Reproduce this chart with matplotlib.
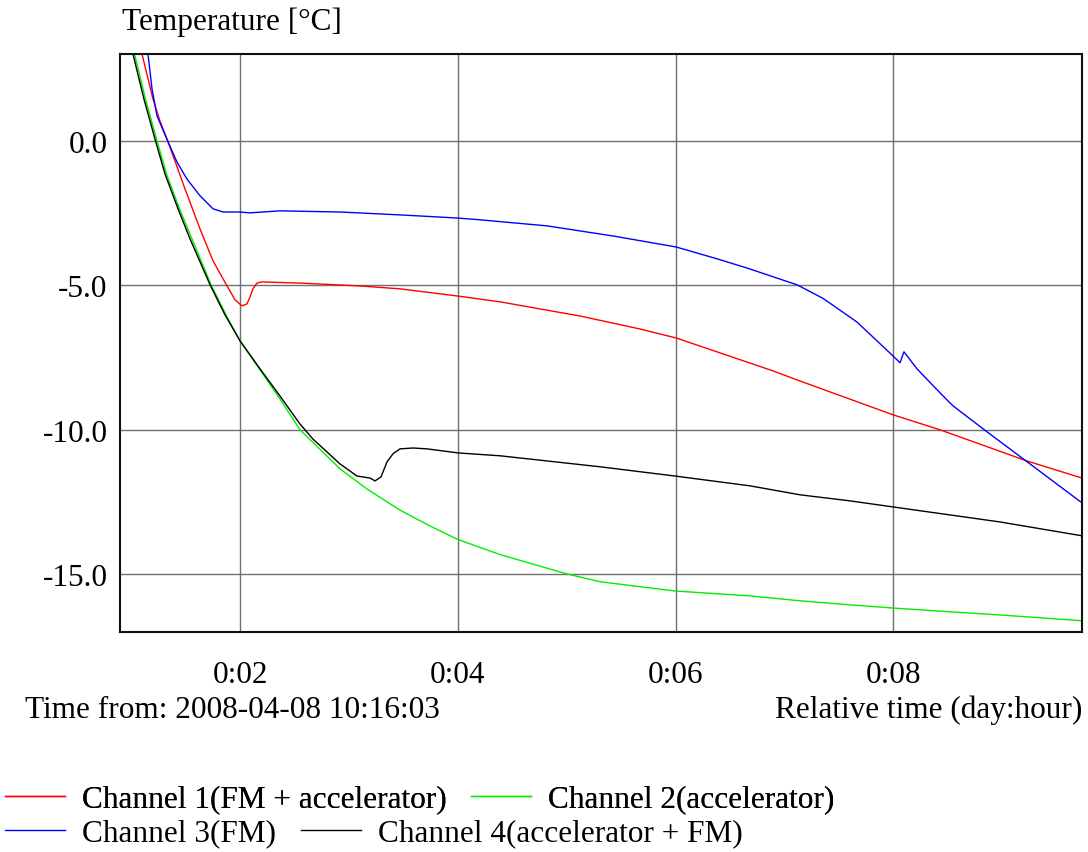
import matplotlib
matplotlib.use("Agg")
import matplotlib.pyplot as plt
from matplotlib.ticker import FixedLocator, FuncFormatter

plt.rcParams['font.family'] = ['Liberation Serif', 'DejaVu Serif']

# Relative time in hours, temperature in degrees Celsius
ch1_time = [1.073, 1.100, 1.201, 1.265, 1.339, 1.495, 1.633, 1.752, 1.881, 1.954,
            2.018, 2.064, 2.092, 2.119, 2.156, 2.202, 2.551, 3.102, 3.469, 4.002,
            4.388, 5.122, 5.673, 6.004, 6.894, 7.142, 7.996, 8.428, 9.227, 9.732]
ch1_temp = [3.53, 3.01, 1.45, 0.69, -0.03, -1.66, -3.05, -4.15, -5.02, -5.50,
            -5.71, -5.64, -5.40, -5.12, -4.92, -4.88, -4.92, -5.02, -5.12, -5.37,
            -5.57, -6.06, -6.51, -6.82, -7.96, -8.31, -9.48, -10.00, -11.08, -11.67]

ch2_time = [0.999, 1.031, 1.132, 1.233, 1.325, 1.444, 1.559, 1.734, 1.871, 2.000,
            2.184, 2.367, 2.551, 2.918, 3.166, 3.469, 3.745, 4.002, 4.388, 5.003,
            5.306, 5.994, 6.683, 7.142, 7.601, 7.996, 8.520, 8.979, 9.732]
ch2_temp = [3.53, 3.01, 1.45, 0.07, -1.14, -2.35, -3.39, -4.98, -6.02, -6.92,
            -7.93, -8.93, -10.00, -11.35, -12.05, -12.78, -13.33, -13.80, -14.32, -14.99,
            -15.26, -15.58, -15.75, -15.92, -16.06, -16.17, -16.30, -16.41, -16.61]

ch3_time = [1.146, 1.155, 1.192, 1.238, 1.339, 1.421, 1.513, 1.633, 1.752, 1.844,
            2.000, 2.092, 2.367, 2.918, 3.469, 4.002, 4.204, 4.819, 5.425, 6.004,
            6.380, 6.656, 7.115, 7.354, 7.666, 7.996, 8.061, 8.097, 8.217, 8.428,
            8.547, 8.860, 9.254, 9.732]
ch3_temp = [3.53, 3.01, 1.80, 0.87, -0.03, -0.73, -1.32, -1.90, -2.35, -2.46,
            -2.46, -2.49, -2.42, -2.46, -2.56, -2.67, -2.73, -2.94, -3.29, -3.67,
            -4.08, -4.40, -4.98, -5.45, -6.27, -7.44, -7.68, -7.30, -7.89, -8.72,
            -9.17, -10.07, -11.18, -12.53]

ch4_time = [0.985, 1.017, 1.118, 1.219, 1.311, 1.431, 1.541, 1.725, 1.862, 2.000,
            2.184, 2.367, 2.551, 2.670, 2.918, 3.074, 3.194, 3.240, 3.295, 3.350,
            3.405, 3.469, 3.589, 3.717, 4.002, 4.388, 5.306, 5.994, 6.683, 7.142,
            7.601, 7.996, 8.979, 9.732]
ch4_temp = [3.53, 3.01, 1.45, 0.07, -1.14, -2.35, -3.39, -4.98, -6.02, -6.92,
            -7.89, -8.83, -9.80, -10.32, -11.18, -11.60, -11.67, -11.77, -11.63, -11.11,
            -10.83, -10.66, -10.63, -10.66, -10.80, -10.90, -11.28, -11.60, -11.94, -12.25,
            -12.46, -12.67, -13.19, -13.67]

series_labels = ["Channel 1(FM + accelerator)", "Channel 2(accelerator)",
                 "Channel 3(FM)", "Channel 4(accelerator + FM)"]
series_colors = ["#ff0000", "#00ee00", "#0000ff", "#000000"]

x_ticks = [2, 4, 6, 8]
y_ticks = [0.0, -5.0, -10.0, -15.0]

FS = 22.5
W, H = 1088, 853

fig = plt.figure(figsize=(W / 100, H / 100), dpi=100)
ax = fig.add_axes([120 / W, 1 - 633 / H, (1082 - 120) / W, (633 - 55) / H])

lines = []
for t, v, c, lab in zip([ch1_time, ch2_time, ch3_time, ch4_time],
                        [ch1_temp, ch2_temp, ch3_temp, ch4_temp],
                        series_colors, series_labels):
    ln, = ax.plot(t, v, color=c, lw=1.0, label=lab)
    lines.append(ln)

ax.set_xlim(0.898, 9.732)
ax.set_ylim(-17.0, 3.01)
ax.xaxis.set_major_locator(FixedLocator(x_ticks))
ax.yaxis.set_major_locator(FixedLocator(y_ticks))
ax.xaxis.set_major_formatter(FuncFormatter(lambda h, _: f"0:{int(round(h)):02d}"))
ax.yaxis.set_major_formatter(FuncFormatter(lambda v, _: f"{v:.1f}"))
ax.tick_params(axis='both', length=0, labelsize=FS)
ax.tick_params(axis='x', pad=20)
ax.tick_params(axis='y', pad=9)
ax.grid(True, color='#707070', lw=1.0)
ax.set_axisbelow(True)
for s in ax.spines.values():
    s.set_color('#111111')
    s.set_linewidth(1.5)

fig.text(122 / W, 1 - 30 / H, "Temperature [\u00b0C]", fontsize=FS, ha='left', va='baseline')
fig.text(25 / W, 1 - 718 / H, "Time from: 2008-04-08 10:16:03", fontsize=FS, ha='left', va='baseline')
fig.text(1082 / W, 1 - 718 / H, "Relative time (day:hour)", fontsize=FS, ha='right', va='baseline')

legend_kw = dict(loc='center left', ncol=2, frameon=False, fontsize=FS,
                 handlelength=1.92, handletextpad=0.55, columnspacing=0.78,
                 borderpad=0, borderaxespad=0)
leg1 = fig.legend(handles=lines[:2], bbox_to_anchor=(5 / W, 1 - 800 / H), **legend_kw)
leg2 = fig.legend(handles=lines[2:], bbox_to_anchor=(5 / W, 1 - 834 / H), **legend_kw)
fig.add_artist(leg1)

fig.savefig("out.png", dpi=100, facecolor='white')
